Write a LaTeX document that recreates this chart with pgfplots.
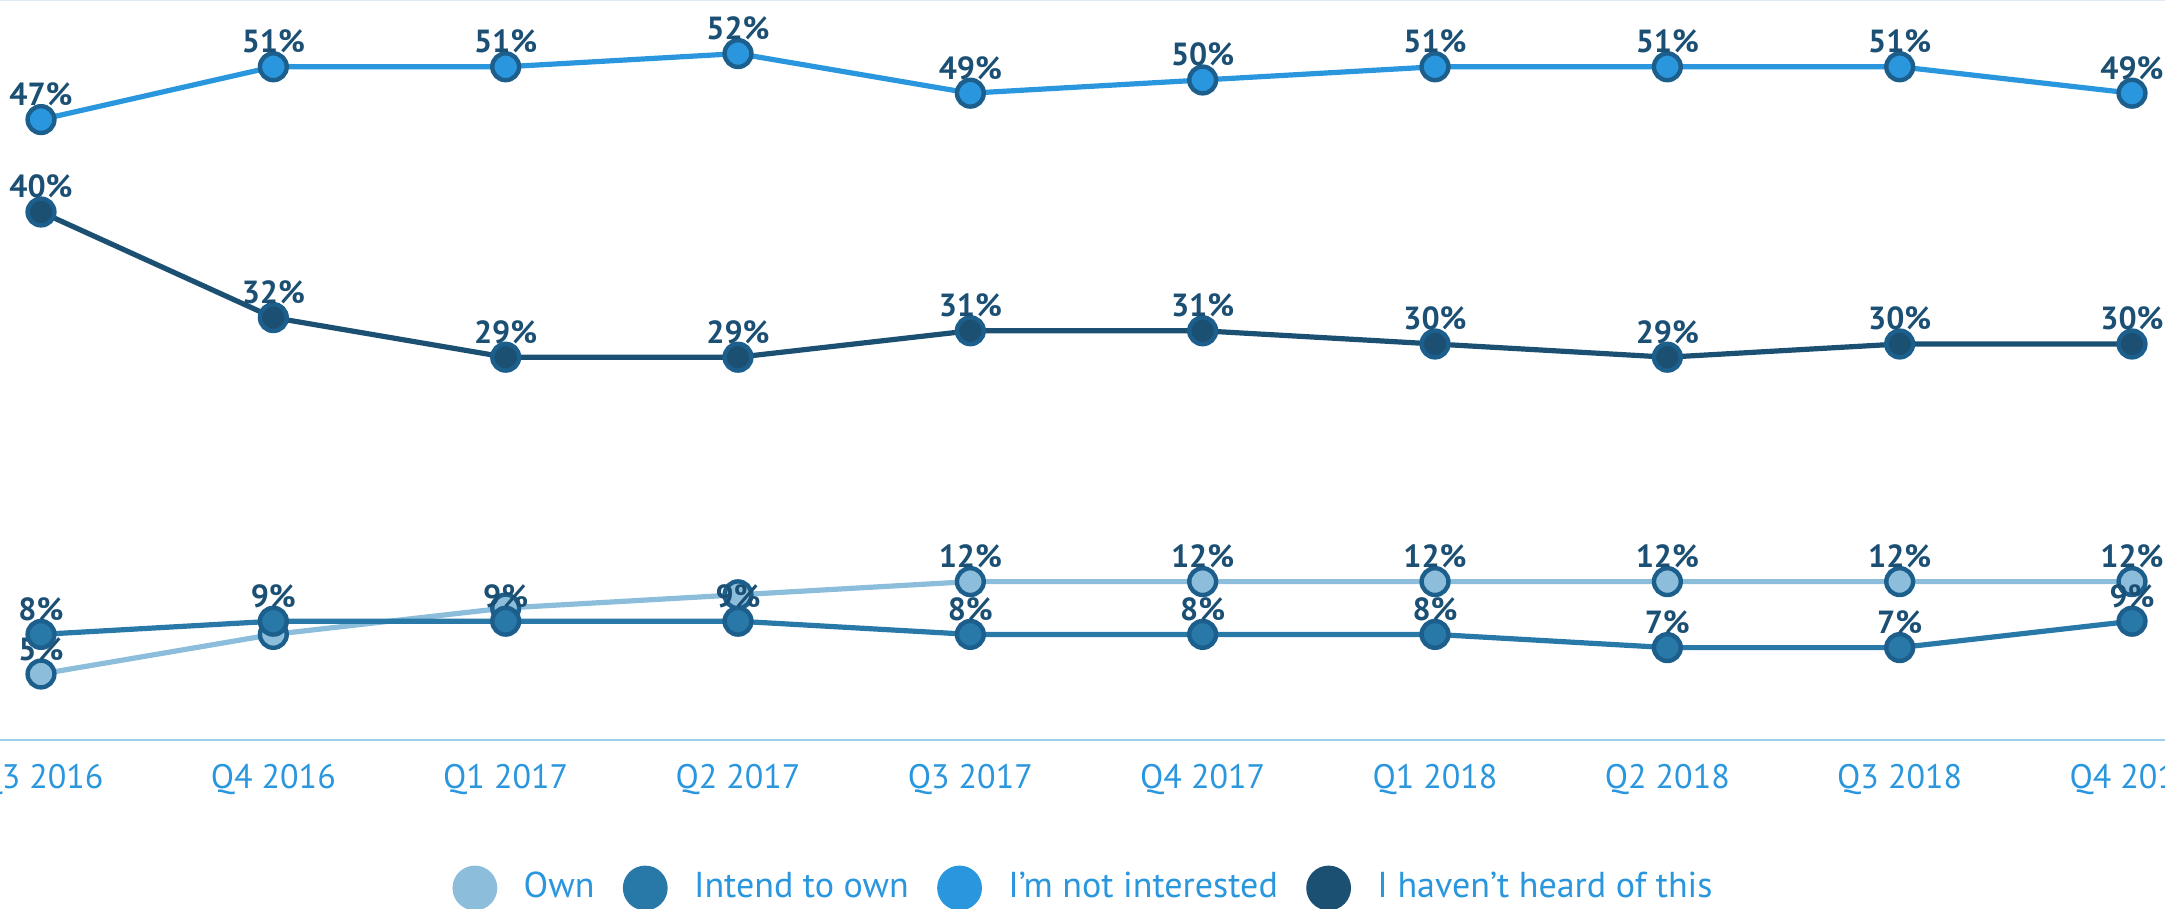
\documentclass[border=0pt]{standalone}
\usepackage{fontspec}
\setmainfont{PT Sans}
\usepackage{pgfplots}
\pgfplotsset{compat=1.18}
\definecolor{ownc}{HTML}{8CBEDC}
\definecolor{intc}{HTML}{2878A8}
\definecolor{notc}{HTML}{2996DE}
\definecolor{heardc}{HTML}{1B5073}
\definecolor{ringc}{HTML}{1C5F8C}
\definecolor{labc}{HTML}{1B4F73}
\definecolor{axisc}{HTML}{9FCFEF}
\definecolor{topc}{HTML}{DCEBF7}

\pgfplotsset{
  ser/.style={#1, line width=1.3pt, mark=*, mark size=3.35pt,
    mark options={draw=ringc, fill=#1, line width=1.1pt, solid}},
  lab/.style={nodes near coords={\pgfmathprintnumber{\pgfplotspointmeta}\%},
    every node near coord/.append style={font=\fontsize{8}{9.5}\selectfont\bfseries,
      text=labc, anchor=base, yshift=3.5pt, inner sep=0pt}},
}

\begin{document}
\begin{tikzpicture}
\begin{axis}[
  scale only axis, width=541.25pt, height=185pt,
  xmin=-0.1765, xmax=9.142, ymin=0, ymax=56.06,
  axis x line*=bottom, axis y line=none, ytick=\empty,
  x axis line style={axisc, line width=0.6pt, -},
  xtick={0,...,9},
  xticklabels={Q3 2016,Q4 2016,Q1 2017,Q2 2017,Q3 2017,Q4 2017,Q1 2018,Q2 2018,Q3 2018,Q4 2018},
  major tick length=0pt,
  xticklabel style={font=\fontsize{8.5}{10}\selectfont, text=notc, anchor=base, yshift=-12pt},
  /pgf/number format/assume math mode=true,
  clip=false,
  legend style={at={(axis description cs:0.5,-0.2)}, anchor=center, draw=none, fill=none,
    legend columns=4, font=\fontsize{9}{11}\selectfont, text=notc, inner sep=0pt,
    nodes={inner sep=0pt},
    /tikz/every odd column/.append style={column sep=6.6pt},
    /tikz/every even column/.append style={column sep=7.1pt}},
]
\draw[topc, line width=0.5pt] (rel axis cs:0,1) -- (rel axis cs:1,1);

% Own (labels for the crowded points are hidden, as in the original)
\addplot[ser=ownc, forget plot] coordinates {
  (0,5) (1,8) (2,10) (3,11) (4,12) (5,12) (6,12) (7,12) (8,12) (9,12)};
\addplot[draw=none, mark=none, lab, forget plot] coordinates {
  (0,5) (4,12) (5,12) (6,12) (7,12) (8,12) (9,12)};

% Intend to own
\addplot[ser=intc, lab, forget plot] coordinates {
  (0,8) (1,9) (2,9) (3,9) (4,8) (5,8) (6,8) (7,7) (8,7) (9,9)};

% I'm not interested
\addplot[ser=notc, lab, forget plot] coordinates {
  (0,47) (1,51) (2,51) (3,52) (4,49) (5,50) (6,51) (7,51) (8,51) (9,49)};

% I haven't heard of this
\addplot[ser=heardc, lab, forget plot] coordinates {
  (0,40) (1,32) (2,29) (3,29) (4,31) (5,31) (6,30) (7,29) (8,30) (9,30)};

\addlegendimage{legend image code/.code={\fill[ownc] (5.4pt,0pt) circle (5.4pt);}}
\addlegendentry{Own}
\addlegendimage{legend image code/.code={\fill[intc] (5.4pt,0pt) circle (5.4pt);}}
\addlegendentry{Intend to own}
\addlegendimage{legend image code/.code={\fill[notc] (5.4pt,0pt) circle (5.4pt);}}
\addlegendentry{I'm not interested}
\addlegendimage{legend image code/.code={\fill[heardc] (5.4pt,0pt) circle (5.4pt);}}
\addlegendentry{I haven't heard of this}
\end{axis}
\pgfresetboundingbox
\useasboundingbox ([yshift=-42pt]current axis.south west) rectangle (current axis.north east);
\end{tikzpicture}
\end{document}
